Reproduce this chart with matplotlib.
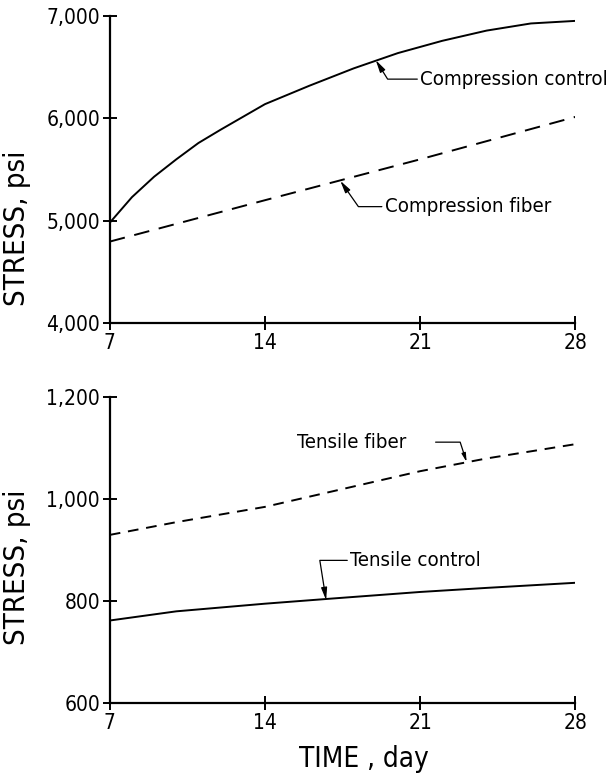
import matplotlib
matplotlib.use('Agg')
import matplotlib.pyplot as plt

plt.rcParams['font.family'] = ['DejaVu Sans']
plt.rcParams['font.stretch'] = 'condensed'

# data
days_cc = [7, 8, 9, 10, 11, 12, 14, 16, 18, 20, 22, 24, 26, 28]
comp_control = [4980, 5230, 5430, 5600, 5760, 5890, 6140, 6320, 6490, 6640, 6760, 6860, 6930, 6955]
days_cf = [7, 14, 21, 28]
comp_fiber = [4795, 5200, 5600, 6015]

days_t = [7, 10, 14, 17, 21, 24, 28]
tens_control = [762, 780, 795, 805, 818, 826, 836]
tens_fiber = [930, 955, 985, 1015, 1055, 1080, 1108]

xticks = [7, 14, 21, 28]
top_yticks = [4000, 5000, 6000, 7000]
top_ylabels = ['4,000', '5,000', '6,000', '7,000']
bot_yticks = [600, 800, 1000, 1200]
bot_ylabels = ['600', '800', '1,000', '1,200']

fig = plt.figure(figsize=(6.1, 7.76), dpi=100)
ax1 = fig.add_axes([0.180, 0.584, 0.763, 0.395])
ax2 = fig.add_axes([0.180, 0.094, 0.763, 0.394])


def style(ax, yticks, ylabels):
    for s in ['top', 'right']:
        ax.spines[s].set_visible(False)
    for s in ['left', 'bottom']:
        ax.spines[s].set_linewidth(1.6)
    ax.set_xlim(7, 28)
    ax.set_ylim(yticks[0], yticks[-1])
    ax.set_xticks(xticks)
    ax.set_yticks(yticks)
    ax.set_yticklabels(ylabels)
    ax.tick_params(direction='inout', length=10, width=1.4, labelsize=15, pad=2)
    ax.set_ylabel('STRESS, psi', fontsize=21)


arrow = dict(arrowstyle='-|>,head_length=0.5,head_width=0.12', color='black', lw=0.9,
             shrinkA=0, shrinkB=0)

style(ax1, top_yticks, top_ylabels)
ax1.yaxis.set_label_coords(-0.170, 0.31)
ax1.plot(days_cc, comp_control, color='black', lw=1.4)
ax1.plot(days_cf, comp_fiber, color='black', lw=1.4, dashes=(8, 5))
ax1.annotate('Compression control', xy=(19.0, 6571), xytext=(21.0, 6385),
             fontsize=14.7, va='center', ha='left',
             arrowprops=dict(arrow, connectionstyle='angle,angleA=0,angleB=-58,rad=0',
                             relpos=(0, 0.5)))
ax1.annotate('Compression fiber', xy=(17.4, 5390), xytext=(19.4, 5137),
             fontsize=14.7, va='center', ha='left',
             arrowprops=dict(arrow, connectionstyle='angle,angleA=0,angleB=-55,rad=0',
                             relpos=(0, 0.5)))

style(ax2, bot_yticks, bot_ylabels)
ax2.yaxis.set_label_coords(-0.170, 0.444)
ax2.plot(days_t, tens_control, color='black', lw=1.4)
ax2.plot(days_t, tens_fiber, color='black', lw=1.4, dashes=(5.5, 4))
ax2.text(15.45, 1112, 'Tensile fiber', fontsize=14.7, va='center', ha='left')
ax2.annotate('', xy=(23.1, 1073), xytext=(21.7, 1112),
             arrowprops=dict(arrow, connectionstyle='angle,angleA=0,angleB=108,rad=0'))
ax2.annotate('Tensile control', xy=(16.76, 802), xytext=(17.84, 880),
             fontsize=14.7, va='center', ha='left',
             arrowprops=dict(arrow, connectionstyle='angle,angleA=0,angleB=99,rad=0',
                             relpos=(0, 0.5)))
ax2.set_xlabel('TIME , day', fontsize=20)
ax2.xaxis.set_label_coords(0.546, -0.137)

fig.savefig('out.png', dpi=100)
